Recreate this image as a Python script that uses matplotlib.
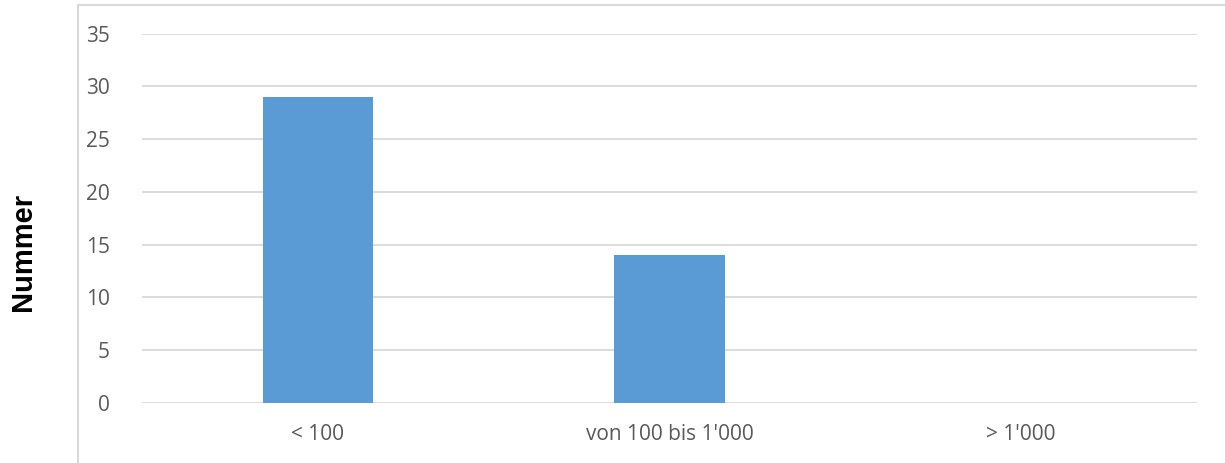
import matplotlib.pyplot as plt
from matplotlib.patches import Rectangle

categories = ['< 100', "von 100 bis 1'000", "> 1'000"]
values = [29, 14, 0]
yticks = [0, 5, 10, 15, 20, 25, 30, 35]

W, H = 1225, 463
fig = plt.figure(figsize=(W / 100, H / 100), dpi=100)
ax = fig.add_axes([142 / W, (H - 402.7) / H, (1197 - 142) / W, (402.7 - 33.7) / H])

# outer chart frame
fig.patches.append(Rectangle((78 / W, -0.1), 1.2, (H - 5) / H + 0.1,
                             transform=fig.transFigure, fill=False,
                             edgecolor='#D9D9D9', linewidth=1.5))

x = range(len(categories))
ax.bar(x, values, width=0.313, color='#5B9BD5', zorder=3)
ax.set_xlim(-0.5, 2.5)
ax.set_ylim(0, 35)
ax.set_yticks(yticks)
ax.set_xticks(list(x))
ax.set_xticklabels(categories)
ax.grid(axis='y', color='#D9D9D9', linewidth=1.3, zorder=0)
for s in ax.spines.values():
    s.set_visible(False)
ax.tick_params(length=0, labelsize=15, labelcolor='#595959')
ax.tick_params(axis='y', pad=23)
ax.tick_params(axis='x', pad=15)
for lab in ax.get_xticklabels() + ax.get_yticklabels():
    lab.set_family('Open Sans')

fig.text(23 / W, (H - 252) / H, 'Nummer', rotation=90, ha='center', va='center',
         fontsize=21, fontweight='bold', family='Liberation Sans')

fig.savefig('out.png', dpi=100)
